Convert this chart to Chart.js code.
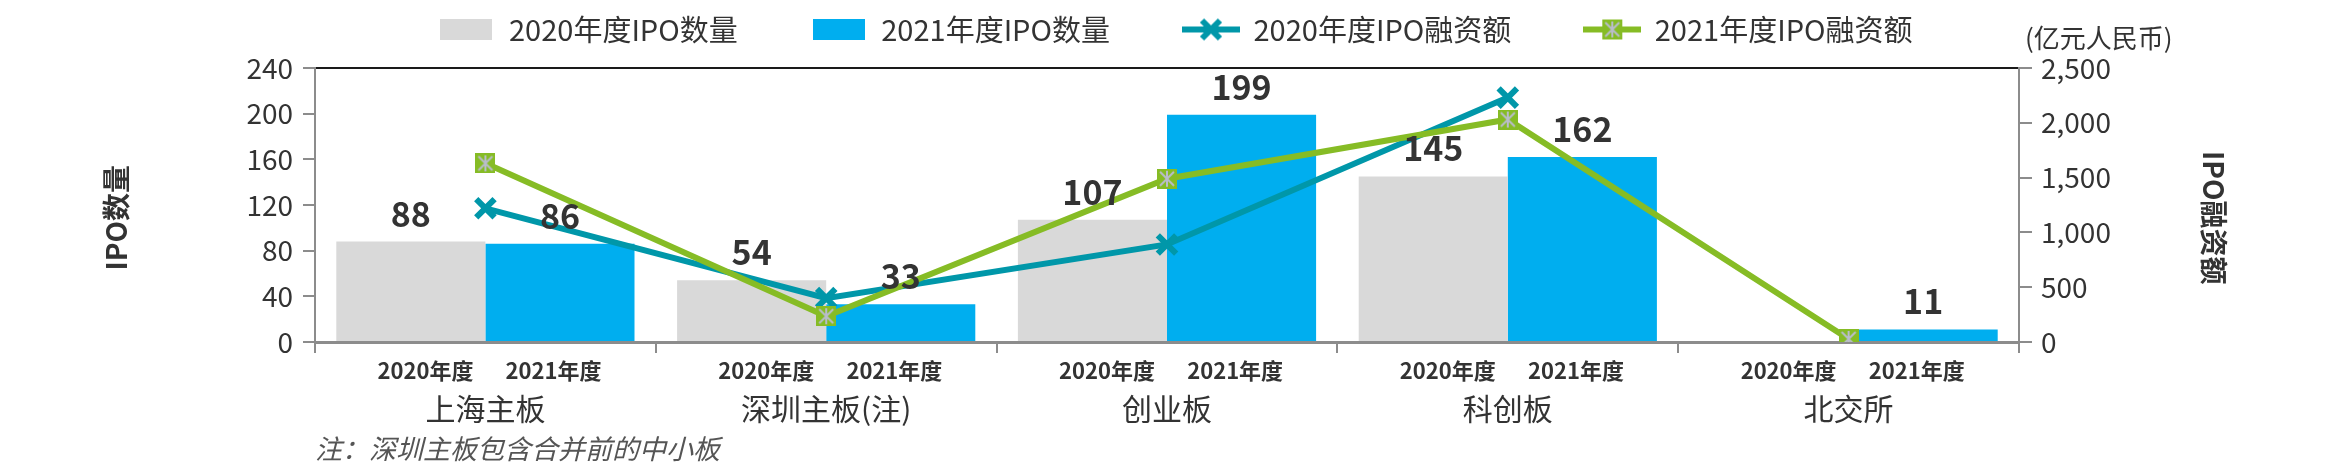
<!DOCTYPE html>
<html>
<head>
<meta charset="utf-8">
<script src="https://cdn.jsdelivr.net/npm/chart.js@4.4.0/dist/chart.umd.min.js"></script>
<style>
  html, body { margin: 0; padding: 0; background: #fff; }
  #wrap { width: 2351px; height: 463px; }
</style>
</head>
<body>
<div id="wrap"><canvas id="ipoChart" width="2351" height="463"></canvas></div>
<script>
// chart data
const categories = ["上海主板", "深圳主板(注)", "创业板", "科创板", "北交所"];
const yearLabels = ["2020年度", "2021年度"];
const ipoCount2020 = [88, 54, 107, 145, null];
const ipoCount2021 = [86, 33, 199, 162, 11];
const ipoAmount2020 = [1220, 400, 890, 2230, null];
const ipoAmount2021 = [1630, 235, 1490, 2030, 28];
const seriesNames = ["2020年度IPO数量", "2021年度IPO数量", "2020年度IPO融资额", "2021年度IPO融资额"];
const countAxisTitle = "IPO数量";
const amountAxisTitle = "IPO融资额";
const amountUnit = "(亿元人民币)";
const footNote = "注：深圳主板包含合并前的中小板";

const FONT = "'Noto Sans CJK SC', 'Noto Sans', sans-serif";
const GRAY = "#D9D9D9";
const BLUE = "#00AEEF";
const TEAL = "#0097A9";
const GREEN = "#86BC25";
const TEXT = "#333333";
const AXIS = "#8C8C8C";

function greenMarker(size) {
  const c = document.createElement("canvas");
  c.width = size; c.height = size;
  const g = c.getContext("2d");
  g.fillStyle = GREEN;
  g.fillRect(0, 0, size, size);
  g.strokeStyle = "#B9BDCB";
  g.lineWidth = 2;
  g.beginPath();
  g.moveTo(3, 3); g.lineTo(size - 3, size - 3);
  g.moveTo(size - 3, 3); g.lineTo(3, size - 3);
  g.moveTo(size / 2, 2); g.lineTo(size / 2, size - 2);
  g.stroke();
  return c;
}

function boxIcon(color) {
  const c = document.createElement("canvas");
  c.width = 52; c.height = 21;
  const g = c.getContext("2d");
  g.fillStyle = color;
  g.fillRect(0, 0, 52, 21);
  return c;
}

function lineIcon(color, withSquare) {
  const c = document.createElement("canvas");
  c.width = 58; c.height = 26;
  const g = c.getContext("2d");
  g.strokeStyle = color;
  g.lineWidth = 6;
  g.beginPath(); g.moveTo(0, 13); g.lineTo(58, 13); g.stroke();
  if (withSquare) {
    g.drawImage(greenMarker(20), 19, 3);
  } else {
    g.lineWidth = 6;
    g.beginPath();
    g.moveTo(20, 4); g.lineTo(38, 22);
    g.moveTo(38, 4); g.lineTo(20, 22);
    g.stroke();
  }
  return c;
}

const legendIcons = [boxIcon(GRAY), boxIcon(BLUE), lineIcon(TEAL, false), lineIcon(GREEN, true)];

// value labels, year sub-labels and unit text
const extraText = {
  id: "extraText",
  afterDatasetsDraw(chart) {
    const ctx = chart.ctx;
    ctx.save();
    ctx.fillStyle = TEXT;
    ctx.textAlign = "center";
    ctx.textBaseline = "alphabetic";
    ctx.font = "bold 34px " + FONT;
    [0, 1].forEach(di => {
      const meta = chart.getDatasetMeta(di);
      meta.data.forEach((bar, i) => {
        const v = chart.data.datasets[di].data[i];
        if (v === null) return;
        ctx.fillText(String(v), bar.x, bar.y - 15);
      });
    });
    ctx.restore();
  },
  afterDraw(chart) {
    const ctx = chart.ctx;
    const x = chart.scales.x;
    const y1 = chart.scales.y1;
    const w = (x.right - x.left) / categories.length;
    ctx.save();
    ctx.fillStyle = TEXT;
    ctx.textAlign = "center";
    ctx.textBaseline = "middle";
    ctx.font = "bold 22px " + FONT;
    categories.forEach((c, i) => {
      const cx = x.getPixelForValue(i);
      ctx.fillText(yearLabels[0], cx - 0.176 * w, x.top + 29);
      ctx.fillText(yearLabels[1], cx + 0.2 * w, x.top + 29);
    });
    ctx.textAlign = "left";
    ctx.font = "26px " + FONT;
    ctx.fillText(amountUnit, y1.left + 6, 38);
    ctx.restore();
  }
};

new Chart(document.getElementById("ipoChart"), {
  data: {
    labels: categories,
    datasets: [
      { type: "bar", label: seriesNames[0], data: ipoCount2020, backgroundColor: GRAY, yAxisID: "y", order: 2,
        categoryPercentage: 0.875, barPercentage: 1 },
      { type: "bar", label: seriesNames[1], data: ipoCount2021, backgroundColor: BLUE, yAxisID: "y", order: 2,
        categoryPercentage: 0.875, barPercentage: 1 },
      { type: "line", label: seriesNames[2], data: ipoAmount2020, yAxisID: "y1", order: 1,
        borderColor: TEAL, borderWidth: 6, tension: 0, spanGaps: false,
        pointStyle: "crossRot", pointRadius: 13, pointBorderWidth: 6, pointBorderColor: TEAL, pointBackgroundColor: TEAL },
      { type: "line", label: seriesNames[3], data: ipoAmount2021, yAxisID: "y1", order: 0,
        borderColor: GREEN, borderWidth: 6, tension: 0,
        pointStyle: greenMarker(20), pointRadius: 10 }
    ]
  },
  options: {
    responsive: false,
    animation: false,
    devicePixelRatio: 1,
    layout: { padding: 0 },
    plugins: {
      tooltip: { enabled: false },
      legend: {
        position: "top",
        labels: {
          usePointStyle: true,
          pointStyleWidth: 56,
          padding: 15,
          font: { family: FONT, size: 29 },
          color: TEXT,
          generateLabels: (chart) => chart.data.datasets.map((ds, i) => ({
            text: ds.label + (i < 3 ? "\u3000\u3000" : ""),
            pointStyle: legendIcons[i],
            fillStyle: "transparent",
            strokeStyle: "transparent",
            lineWidth: 0,
            fontColor: TEXT,
            hidden: false,
            datasetIndex: i
          }))
        }
      }
    },
    scales: {
      x: {
        type: "category",
        offset: true,
        grid: { display: true, offset: true, drawOnChartArea: false, tickLength: 11, color: AXIS, lineWidth: 2 },
        border: { display: true, color: AXIS, width: 3 },
        ticks: { font: { family: FONT, size: 30 }, color: TEXT, padding: 38, maxRotation: 0, autoSkip: false },
        title: { display: true, text: footNote, align: "start", color: "#555555",
                 font: { family: FONT, size: 27, style: "italic" }, padding: { top: 0, bottom: -2 } },
        afterFit(s) { s.height = 121; }
      },
      x2: {
        type: "category",
        position: "top",
        grid: { display: false },
        ticks: { display: false },
        border: { display: true, color: "#1A1A1A", width: 2 },
        afterFit(s) { s.height = 14; }
      },
      y: {
        position: "left",
        min: 0, max: 240,
        ticks: { stepSize: 40, font: { family: FONT, size: 28 }, color: TEXT, padding: 10 },
        grid: { drawOnChartArea: false, tickLength: 12, color: AXIS, lineWidth: 2 },
        border: { display: true, color: AXIS, width: 2 },
        title: { display: true, text: countAxisTitle + "    ", color: TEXT,
                 font: { family: FONT, size: 28, weight: "bold" }, padding: { top: 100, bottom: 0 } },
        afterFit(s) { s.width = 315; }
      },
      y1: {
        position: "right",
        min: 0, max: 2500,
        ticks: { stepSize: 500, font: { family: FONT, size: 28 }, color: TEXT, padding: 9 },
        grid: { drawOnChartArea: false, tickLength: 13, color: AXIS, lineWidth: 2 },
        border: { display: true, color: AXIS, width: 2 },
        title: { display: true, text: "    " + amountAxisTitle, color: TEXT,
                 font: { family: FONT, size: 28, weight: "bold" }, padding: { top: 121, bottom: 0 } },
        afterFit(s) { s.width = 332; }
      }
    }
  },
  plugins: [extraText]
});
</script>
</body>
</html>
